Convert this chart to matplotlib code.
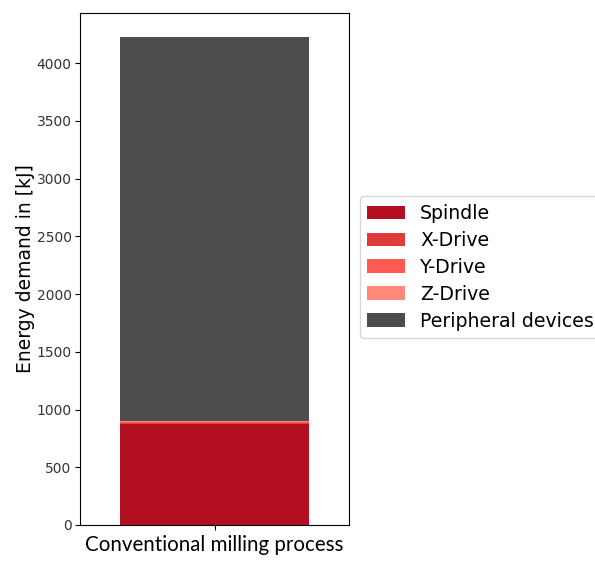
import numpy as np
import matplotlib.pyplot as plt

plt.rcParams['font.family'] = ['DejaVu Sans']

process = ['Conventional milling process']
components = ['Spindle', 'X-Drive', 'Y-Drive', 'Z-Drive', 'Peripheral devices']
energy = [876, 9, 8, 8, 3323]  # kJ
colors = ['#b30f20', '#e03c3c', '#ff5a52', '#ff8878', '#4d4d4d']

fig = plt.figure(figsize=(5.95, 5.63), dpi=100)
ax = fig.add_axes([80 / 595, 38 / 563, 269 / 595, 512 / 563])

bottom = 0
for name, val, col in zip(components, energy, colors):
    ax.bar(process, val, bottom=bottom, width=0.7, color=col, label=name)
    bottom += val

ax.set_xlim(-0.5, 0.5)
ax.set_ylabel('Energy demand in [kJ]', fontsize=13.5, labelpad=1)
ax.tick_params(axis='x', labelsize=14.8)
for lbl in ax.get_xticklabels():
    lbl.set_family('Lato')
ax.tick_params(axis='y', labelsize=10, labelcolor='#333333', pad=2.5)

ax.legend(loc='upper left', bbox_to_anchor=(1.04, 0.642), fontsize=13.6,
          handlelength=2.0, borderaxespad=0, labelspacing=0.42)

fig.savefig('out.png', dpi=100)
